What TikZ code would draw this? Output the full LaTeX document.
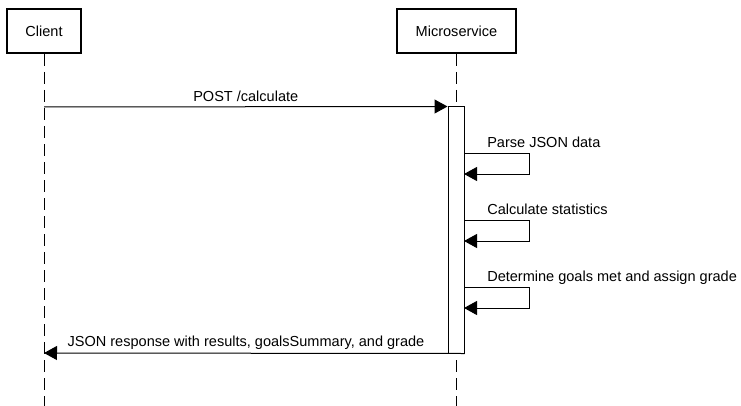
\documentclass[tikz,border=0pt]{standalone}
\usepackage{fontspec}
\setmainfont{Liberation Sans}
\usetikzlibrary{arrows.meta}
\begin{document}
\begin{tikzpicture}[x=0.75pt,y=-0.75pt,
    font=\fontsize{10.9}{13}\selectfont,
    actor/.style={draw,line width=1.5pt,minimum height=33pt,inner sep=0pt},
    lifeline/.style={line width=0.75pt,dash pattern=on 9pt off 4.5pt},
    msg/.style={line width=0.75pt,-{Triangle[length=9.75pt,width=10.5pt]}},
    activation/.style={draw,fill=white,line width=0.75pt,minimum width=12pt,
      minimum height=184.5pt,inner sep=0pt}]
  \useasboundingbox (0,0) rectangle (741,406);
  \node[actor,minimum width=55.5pt] (client) at (44,31) {Client};
  \node[actor,minimum width=89.25pt] (micro) at (456.5,31) {Microservice};
  \coordinate (clientend) at (44,406);
  \coordinate (microend) at (456.5,406);
  \draw[lifeline] (client) -- (clientend);
  \draw[lifeline] (micro) -- (microend);
  \node[activation] (bar) at (456,230) {};
  % request
  \coordinate (post) at (44,107);
  \draw[msg] (post) -- (bar.north west)
    node[midway,anchor=base,yshift=3.75pt] (postlabel) {POST /calculate};
  % self calls
  \foreach \i/\top/\txt in {1/153/Parse JSON data,
                            2/220/Calculate statistics,
                            3/287/Determine goals met and assign grade} {
    \coordinate (out\i) at (464,\top);
    \coordinate (in\i) at (464,\top+21);
    \draw[msg] (out\i) -- ++(65,0) |- (in\i);
    \node[anchor=base west,inner sep=0pt] (self\i) at (487,\top-6) {\txt};
  }
  % response
  \coordinate (back) at (44,353);
  \draw[msg] (bar.south east) -- (back);
  \node[anchor=base] (backlabel) at (246,346)
    {JSON response with results, goalsSummary, and grade};
\end{tikzpicture}
\end{document}
